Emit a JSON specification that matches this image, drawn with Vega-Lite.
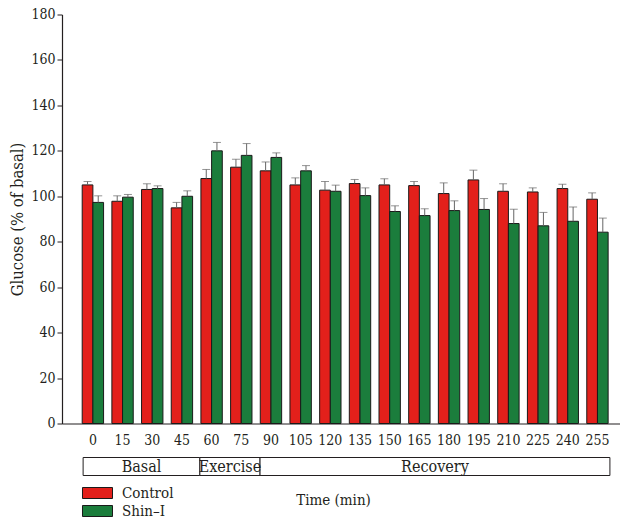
{
  "$schema": "https://vega.github.io/schema/vega-lite/v6.json",
  "padding": {"left": 9, "top": 7.5, "right": 0, "bottom": 0},
  "background": "white",
  "config": {
    "view": {"stroke": null},
    "font": "DejaVu Serif Condensed, DejaVu Serif",
    "axis": {"labelFont": "DejaVu Serif Condensed, DejaVu Serif", "titleFont": "DejaVu Serif Condensed, DejaVu Serif", "labelColor": "#231f20", "titleColor": "#231f20", "domainColor": "#231f20", "tickColor": "#231f20", "titleFontWeight": "normal"},
    "legend": {"labelFont": "DejaVu Serif Condensed, DejaVu Serif"}
  },
  "spacing": 33,
  "bounds": "flush",
  "vconcat": [
    {
      "width": 558,
      "height": 409,
      "data": {"values": [
        {"time": 0, "group": "Control", "glucose": 105.0, "upper": 106.5},
        {"time": 0, "group": "Shin–I", "glucose": 97.3, "upper": 100.2},
        {"time": 15, "group": "Control", "glucose": 97.8, "upper": 100.2},
        {"time": 15, "group": "Shin–I", "glucose": 99.6, "upper": 100.8},
        {"time": 30, "group": "Control", "glucose": 103.0, "upper": 105.5},
        {"time": 30, "group": "Shin–I", "glucose": 103.4, "upper": 104.6},
        {"time": 45, "group": "Control", "glucose": 94.9, "upper": 97.3},
        {"time": 45, "group": "Shin–I", "glucose": 100.0, "upper": 102.4},
        {"time": 60, "group": "Control", "glucose": 107.8, "upper": 111.8},
        {"time": 60, "group": "Shin–I", "glucose": 120.0, "upper": 123.7},
        {"time": 75, "group": "Control", "glucose": 112.8, "upper": 116.3},
        {"time": 75, "group": "Shin–I", "glucose": 118.0, "upper": 123.2},
        {"time": 90, "group": "Control", "glucose": 111.2, "upper": 115.1},
        {"time": 90, "group": "Shin–I", "glucose": 117.1, "upper": 119.1},
        {"time": 105, "group": "Control", "glucose": 105.0, "upper": 108.1},
        {"time": 105, "group": "Shin–I", "glucose": 111.2, "upper": 113.5},
        {"time": 120, "group": "Control", "glucose": 102.7, "upper": 106.5},
        {"time": 120, "group": "Shin–I", "glucose": 102.2, "upper": 104.9},
        {"time": 135, "group": "Control", "glucose": 105.6, "upper": 107.4},
        {"time": 135, "group": "Shin–I", "glucose": 100.3, "upper": 103.7},
        {"time": 150, "group": "Control", "glucose": 105.0, "upper": 107.7},
        {"time": 150, "group": "Shin–I", "glucose": 93.3, "upper": 95.8},
        {"time": 165, "group": "Control", "glucose": 104.7, "upper": 106.5},
        {"time": 165, "group": "Shin–I", "glucose": 91.5, "upper": 94.5},
        {"time": 180, "group": "Control", "glucose": 101.2, "upper": 105.9},
        {"time": 180, "group": "Shin–I", "glucose": 93.7, "upper": 98.0},
        {"time": 195, "group": "Control", "glucose": 107.2, "upper": 111.5},
        {"time": 195, "group": "Shin–I", "glucose": 94.2, "upper": 99.0},
        {"time": 210, "group": "Control", "glucose": 102.2, "upper": 105.5},
        {"time": 210, "group": "Shin–I", "glucose": 88.0, "upper": 94.3},
        {"time": 225, "group": "Control", "glucose": 101.9, "upper": 103.7},
        {"time": 225, "group": "Shin–I", "glucose": 87.0, "upper": 92.9},
        {"time": 240, "group": "Control", "glucose": 103.4, "upper": 105.3},
        {"time": 240, "group": "Shin–I", "glucose": 89.0, "upper": 95.3},
        {"time": 255, "group": "Control", "glucose": 98.7, "upper": 101.5},
        {"time": 255, "group": "Shin–I", "glucose": 84.2, "upper": 90.4}
      ]},
      "encoding": {
        "x": {"field": "time", "type": "ordinal", "scale": {"paddingInner": 0.28, "paddingOuter": 0.54, "align": 0.63},
              "axis": {"title": null, "labelAngle": 0, "ticks": false, "labelFontSize": 14, "labelPadding": 10, "domainWidth": 1.2}},
        "xOffset": {"field": "group", "type": "nominal", "scale": {"paddingInner": 0, "paddingOuter": 0}}
      },
      "layer": [
        {
          "mark": {"type": "bar", "stroke": "#1a1a1a", "strokeWidth": 1},
          "encoding": {
            "y": {"field": "glucose", "type": "quantitative", "scale": {"domain": [0, 180], "nice": false},
                  "axis": {"title": "Glucose (% of basal)", "titleFontSize": 16.5, "titlePadding": 5, "values": [0,20,40,60,80,100,120,140,160,180], "grid": false, "labelFontSize": 14, "tickSize": 5, "labelPadding": 2, "domainWidth": 1.2}},
            "color": {"field": "group", "type": "nominal",
                      "scale": {"domain": ["Control", "Shin–I"], "range": ["#e3201b", "#1b7d3c"]},
                      "legend": {"title": null, "orient": "none", "legendX": 28, "legendY": 471, "symbolType": "M-2.73,-1H2.73V1H-2.73Z", "symbolSize": 121, "symbolStrokeColor": "#1a1a1a", "symbolStrokeWidth": 1, "symbolOpacity": 1, "labelFontSize": 15, "labelColor": "#231f20", "rowPadding": 2, "labelOffset": 17, "padding": 0}}
          }
        },
        {
          "mark": {"type": "rule", "color": "#666666", "strokeWidth": 1},
          "encoding": {
            "y": {"field": "glucose", "type": "quantitative"},
            "y2": {"field": "upper"}
          }
        },
        {
          "mark": {"type": "tick", "color": "#666666", "thickness": 1, "size": 8},
          "encoding": {
            "y": {"field": "upper", "type": "quantitative"}
          }
        }
      ]
    },
    {
      "width": 558,
      "height": 20,
      "data": {"values": [
        {"phase": "Basal", "start": -5.0, "end": 54.0, "mid": 24.5},
        {"phase": "Exercise", "start": 54.0, "end": 84.4, "mid": 69.2},
        {"phase": "Recovery", "start": 84.4, "end": 261.2, "mid": 172.8}
      ]},
      "layer": [
        {
          "mark": {"type": "bar", "fill": "white", "stroke": "#231f20", "strokeWidth": 1},
          "encoding": {
            "x": {"field": "start", "type": "quantitative", "scale": {"domain": [-15.67, 266.3], "nice": false, "zero": false},
                  "axis": {"title": "Time (min)", "titleX": 271, "titleFontSize": 15, "titlePadding": 16, "labels": false, "ticks": false, "domain": false, "grid": false}},
            "x2": {"field": "end"}
          }
        },
        {
          "mark": {"type": "text", "fontSize": 16, "color": "#231f20", "font": "DejaVu Serif Condensed, DejaVu Serif"},
          "encoding": {
            "x": {"field": "mid", "type": "quantitative"},
            "text": {"field": "phase"}
          }
        }
      ]
    }
  ]
}
